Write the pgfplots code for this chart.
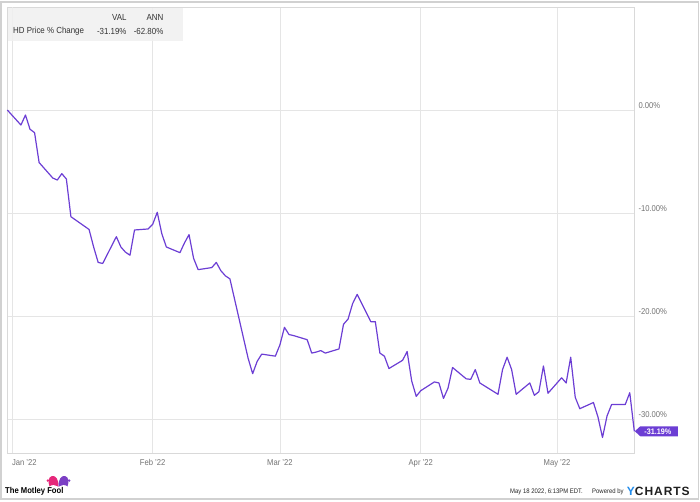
\documentclass[border=0pt]{standalone}
\usepackage{fontspec}
\setmainfont{Liberation Sans}[FakeStretch=0.9]
\newfontfamily\ycfont{Liberation Sans}[LetterSpace=8]
\usepackage{pgfplots}
\pgfplotsset{compat=1.18}

\definecolor{hdline}{RGB}{108,62,212}
\definecolor{hatpink}{RGB}{230,40,122}
\definecolor{hatpurple}{RGB}{123,63,196}
\definecolor{ycblue}{RGB}{33,140,235}

% HD price change in %, x = days after 1 Jan 2022
\pgfplotstableread{
d v
-1 0
2 -1.46
3 -0.49
4 -1.87
5 -2.2
6 -5.1
9 -6.6
10 -6.8
11 -6.18
12 -6.7
13 -10.36
17 -11.6
18 -13.3
19 -14.8
20 -14.9
23 -12.3
24 -13.3
25 -13.8
26 -14.1
27 -11.65
30 -11.55
31 -11.1
32 -9.93
33 -12.0
34 -13.3
37 -13.85
38 -12.9
39 -12.1
40 -14.4
41 -15.5
44 -15.3
45 -14.8
46 -15.6
47 -16.1
48 -16.4
52 -24.1
53 -25.6
54 -24.4
55 -23.7
58 -23.9
59 -22.8
60 -21.1
61 -21.8
62 -21.9
65 -22.3
66 -23.6
67 -23.5
68 -23.36
69 -23.6
72 -23.2
73 -20.8
74 -20.3
75 -18.8
76 -17.9
79 -20.55
80 -20.55
81 -23.6
82 -23.9
83 -25.1
86 -24.3
87 -23.45
88 -26.3
89 -27.8
90 -27.25
93 -26.4
94 -26.5
95 -28.0
96 -27.0
97 -25.0
100 -26.1
101 -26.15
102 -25.2
103 -26.5
107 -27.6
108 -25.2
109 -24.0
110 -25.2
111 -27.6
114 -26.5
115 -27.7
116 -27.35
117 -24.85
118 -27.5
121 -26.0
122 -26.5
123 -24.0
124 -27.9
125 -29.0
128 -28.4
129 -29.8
130 -31.8
131 -29.7
132 -28.6
135 -28.6
136 -27.45
137 -31.19
}\hddata

\begin{document}
\begin{tikzpicture}
\path[use as bounding box] (0pt,0pt) rectangle (700pt,501pt);
\draw[black!18, line width=1.2pt] (1pt,2pt) rectangle (698.5pt,499pt);

\begin{axis}[
    at={(7.3pt,47.7pt)}, anchor=south west,
    scale only axis, width=627pt, height=446pt,
    xmin=-1, xmax=137, ymin=-33.33, ymax=9.97,
    axis line style={draw=black!15},
    grid=major,
    major grid style={draw=black!10, line width=0.6pt},
    major tick length=0pt,
    xtick={31,59,90,120},
    xticklabels={Feb '22,Mar '22,Apr '22,May '22},
    extra x ticks={0},
    extra x tick labels={Jan '22},
    extra x tick style={xticklabel style={anchor=north west}},
    xticklabel style={font=\fontsize{8.5}{10}\selectfont, text=black!55,
        inner sep=0pt, yshift=-6pt},
    ytick={-30,-20,-10,0},
    yticklabels={-30.00\%,-20.00\%,-10.00\%,0.00\%},
    yticklabel pos=right,
    yticklabel style={font=\fontsize{8.5}{10}\selectfont, text=black!55,
        anchor=south west, inner sep=0pt, xshift=4pt, yshift=1pt},
    clip=false,
]
\addplot[hdline, line width=1.2pt, line join=round] table[x=d, y=v] {\hddata};

% end value tag
\fill[hdline] (axis cs:137,-31.19) ++(0.5pt,0pt) -- ++(5.5pt,5pt) -- ++(37.5pt,0pt)
    -- ++(0pt,-10pt) -- ++(-37.5pt,0pt) -- cycle;
\node[text=white, font=\bfseries\fontsize{8}{9}\selectfont, inner sep=0pt]
    at ([xshift=23.5pt]axis cs:137,-31.19) {-31.19\%};
\end{axis}

% value table top left
\fill[black!6, fill opacity=0.85] (8pt,493pt) rectangle (183pt,460.3pt);
\begin{scope}[every node/.style={inner sep=0pt, text=black!80,
    font=\fontsize{8.8}{10}\selectfont}]
\node[anchor=east] at (126.7pt,483.7pt) {VAL};
\node[anchor=east] at (163.5pt,483.7pt) {ANN};
\node[anchor=west] at (13pt,470pt) {HD Price \% Change};
\node[anchor=east] at (126.7pt,470pt) {-31.19\%};
\node[anchor=east] at (163.5pt,470pt) {-62.80\%};
\end{scope}

% footer: Motley Fool jester hat
\fill[hatpink] (49.5pt,14.5pt) .. controls (48pt,19pt) and (48pt,24pt) .. (52pt,25pt)
    .. controls (56pt,25.5pt) and (58.5pt,22pt) .. (58.5pt,14.5pt) -- cycle;
\fill[hatpurple] (58.5pt,14.5pt) .. controls (58.5pt,22pt) and (61pt,25.5pt) .. (65pt,25pt)
    .. controls (69pt,24pt) and (69pt,19pt) .. (67.5pt,14.5pt) -- cycle;
\fill[white] (49pt,14pt) .. controls (52pt,17pt) and (55pt,16pt) .. (58.5pt,14pt) -- cycle;
\fill[white] (58.5pt,14pt) .. controls (62pt,16pt) and (65pt,17pt) .. (68pt,14pt) -- cycle;
\fill[hatpink] (47.8pt,20.5pt) circle (1.3pt);
\fill[hatpurple] (69.2pt,20.5pt) circle (1.3pt);
\node[anchor=west, inner sep=0pt, font=\bfseries\fontsize{8.5}{10}\selectfont]
    at (5pt,9.3pt) {The Motley Fool};

% footer: YCharts
\node[anchor=west, inner sep=0pt, text=black!85, font=\fontsize{6.6}{8}\selectfont]
    at (510pt,9.3pt) {May 18 2022, 6:13PM EDT.};
\node[anchor=west, inner sep=0pt, text=black!85, font=\fontsize{6.6}{8}\selectfont]
    at (592pt,9.3pt) {Powered by};
\node[anchor=west, inner sep=0pt, font=\ycfont\bfseries\fontsize{12}{14}\selectfont]
    at (626.7pt,9.5pt) {\textcolor{ycblue}{Y}\textcolor{black!88}{CHARTS}};
\end{tikzpicture}
\end{document}
